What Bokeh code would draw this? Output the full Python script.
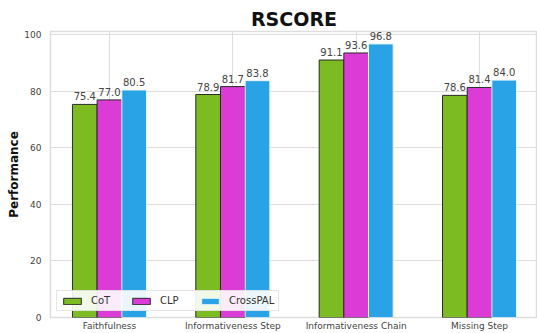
from bokeh.plotting import figure
from bokeh.models import ColumnDataSource, FixedTicker, Legend, LegendItem
from bokeh.embed import file_html
from bokeh.resources import INLINE
from bokeh.core.properties import value

categories = ["Faithfulness", "Informativeness Step", "Informativeness Chain", "Missing Step"]
methods = ["CoT", "CLP", "CrossPAL"]
cot = [75.4, 78.9, 91.1, 78.6]
clp = [77.0, 81.7, 93.6, 81.4]
crosspal = [80.5, 83.8, 96.8, 84.0]
y_ticks = [0, 20, 40, 60, 80, 100]

colors = ["#7cbc22", "#dc3cd6", "#29a3e6"]
edges = ["#2a2a2a", "#2a2a2a", "#e8f4fc"]
series = [cot, clp, crosspal]
offsets = [-0.2, 0.0, 0.2]
FONT = "DejaVu Sans"

p = figure(width=537, height=333, output_backend="svg", toolbar_location=None,
           x_range=(-0.478, 3.47), y_range=(0, 101.2),
           min_border_left=50, min_border_right=0, min_border_top=31, min_border_bottom=0)

renderers = []
for vals, off, c, e, name in zip(series, offsets, colors, edges, methods):
    src = ColumnDataSource(dict(x=[i + off for i in range(len(categories))], top=vals,
                                lab=["%.1f" % v for v in vals]))
    r = p.vbar(x="x", top="top", width=0.2, source=src, fill_color=c, line_color=e, line_width=1)
    renderers.append(r)
    p.text(x="x", y="top", text="lab", source=src, text_align="center", text_baseline="bottom",
           y_offset=-4, text_font=value(FONT), text_font_size="10px", text_color="#444444")

legend = Legend(items=[LegendItem(label=m, renderers=[r]) for m, r in zip(methods, renderers)],
                orientation="horizontal", location=(6, 6),
                label_text_font=FONT, label_text_font_size="10px", label_text_color="#333333",
                glyph_width=22, glyph_height=8, spacing=19, padding=4, margin=0,
                border_line_color="#cccccc", border_line_width=1, label_standoff=8,
                background_fill_alpha=0.9)
p.add_layout(legend)

p.title.text = "RSCORE"
p.title.align = "center"
p.title.text_font = FONT
p.title.text_font_size = "19px"
p.title.text_font_style = "bold"
p.title.text_color = "#111111"
p.title.offset = 0
p.title.standoff = 4

p.xaxis.ticker = FixedTicker(ticks=list(range(len(categories))))
p.xaxis.major_label_overrides = {i: c for i, c in enumerate(categories)}
p.yaxis.ticker = FixedTicker(ticks=y_ticks)

for ax in (p.xaxis[0], p.yaxis[0]):
    ax.axis_line_color = None
    ax.major_tick_line_color = None
    ax.minor_tick_line_color = None
    ax.major_tick_out = 0
    ax.major_tick_in = 0
    ax.major_label_text_font = FONT
    ax.major_label_text_font_size = "9px"
    ax.major_label_text_color = "#444444"

p.xaxis.major_label_standoff = 3
p.yaxis.major_label_standoff = 9

p.yaxis.axis_label = "Performance"
p.yaxis.axis_label_text_font = FONT
p.yaxis.axis_label_text_font_size = "12px"
p.yaxis.axis_label_text_font_style = "bold"
p.yaxis.axis_label_text_color = "#111111"
p.yaxis.axis_label_standoff = 0

p.xgrid.grid_line_color = "#dddddd"
p.ygrid.grid_line_color = "#dddddd"
p.outline_line_color = "#dddddd"
p.outline_line_width = 1.5

open("out.html", "w").write(file_html(p, INLINE))
